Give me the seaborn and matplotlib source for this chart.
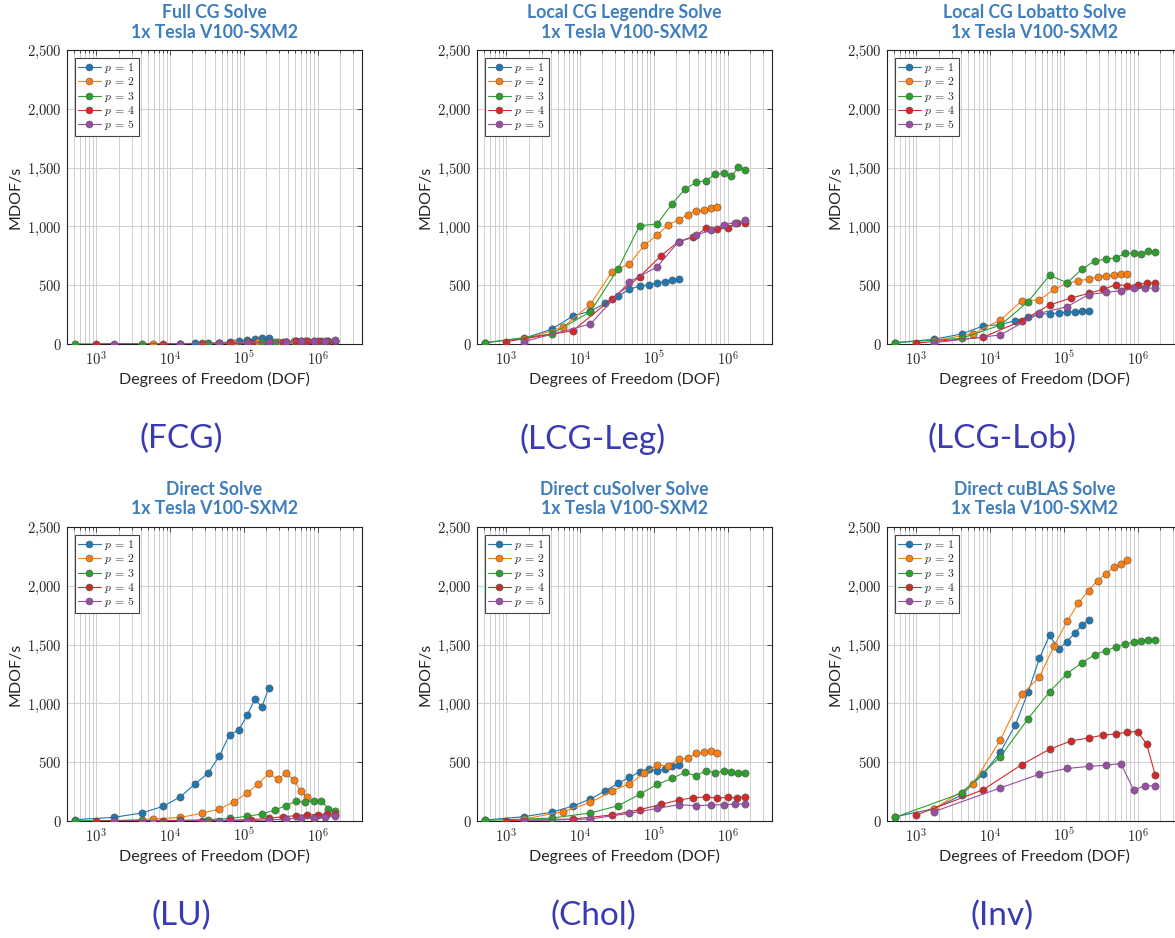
import numpy as np
import pandas as pd
import seaborn as sns
import matplotlib
matplotlib.use("Agg")
import matplotlib.pyplot as plt
from matplotlib.lines import Line2D
from matplotlib.ticker import FixedLocator, FuncFormatter, LogLocator, NullFormatter

nan = np.nan

# Degrees of freedom for each polynomial order (one entry per mesh size)
DOF_P1 = [512, 1728, 4096, 8000, 13824, 21952, 32768, 46656, 64000, 85184,
          110592, 140608, 175616, 216000]
DOF_P2 = [1728, 5832, 13824, 27000, 46656, 74088, 110592, 157464, 216000,
          287496, 373248, 474552, 592704, 729000]
DOF_P3 = [512, 4096, 13824, 32768, 64000, 110592, 175616, 262144, 373248,
          512000, 681472, 884736, 1124864, 1404928, 1728000]
DOF_P4 = [1000, 8000, 27000, 64000, 125000, 216000, 343000, 512000, 729000,
          1000000, 1331000, 1728000]
DOF_P5 = [1728, 13824, 46656, 110592, 216000, 373248, 592704, 884736,
          1259712, 1728000]

ORDERS = [1, 2, 3, 4, 5]
ORDER_LABELS = [r"$p\,=\,1$", r"$p\,=\,2$", r"$p\,=\,3$", r"$p\,=\,4$", r"$p\,=\,5$"]

# Throughput in MDOF/s per solver, one list per polynomial order
FCG_P1 = [nan, nan, nan, nan, nan, 5, 8, 11, 17, 28, 35, 42, 48, 50]
FCG_P2 = [nan, 2, 4, 6, 9, 12, 15, 17, 19, 20, 21, 22, 23, 24]
FCG_P3 = [1, 1, 2, 4, 8, 12, 16, 19, 21, 23, 24, 25, 26, 27, 28]
FCG_P4 = [1, 1, 2, 5, 10, 15, 19, 22, 24, 25, 26, 27]
FCG_P5 = [1, 2, 6, 12, 17, 21, 24, 27, 29, 33]

LEG_P1 = [11, 48, 125, 238, 280, 346, 408, 465, 493, 502, 521, 530, 544, 550]
LEG_P2 = [40, 142, 337, 615, 680, 840, 925, 1015, 1054, 1100, 1134, 1137, 1160, 1166]
LEG_P3 = [11, 85, 275, 640, 1006, 1020, 1190, 1315, 1375, 1389, 1445, 1451, 1428, 1502, 1480]
LEG_P4 = [20, 113, 385, 572, 751, 870, 907, 984, 975, 990, 1029, 1032]
LEG_P5 = [20, 170, 530, 655, 870, 924, 969, 1015, 1032, 1052]

LOB_P1 = [11, 40, 85, 153, 165, 198, 227, 255, 258, 263, 272, 275, 278, 280]
LOB_P2 = [28, 87, 204, 368, 374, 465, 516, 538, 552, 572, 581, 586, 598, 592]
LOB_P3 = [11, 48, 161, 360, 584, 521, 635, 708, 722, 734, 771, 771, 765, 788, 782]
LOB_P4 = [8, 57, 198, 331, 391, 430, 465, 505, 496, 505, 520, 516]
LOB_P5 = [11, 77, 261, 317, 420, 439, 453, 473, 479, 473]

LU_P1 = [11, 31, 68, 124, 206, 317, 407, 554, 735, 772, 899, 1035, 970, 1128]
LU_P2 = [3, 17, 31, 65, 102, 164, 238, 317, 404, 356, 404, 351, 252, 201]
LU_P3 = [2, 5, 6, 11, 22, 40, 59, 93, 130, 170, 158, 173, 173, 102, 88]
LU_P4 = [2, 3, 4, 6, 12, 22, 37, 45, 54, 55, 59, 60]
LU_P5 = [1, 1, 2, 3, 8, 17, 23, 28, 37, 45]

CHOL_P1 = [8, 37, 74, 127, 187, 257, 320, 370, 419, 441, 427, 441, 464, 478]
CHOL_P2 = [17, 79, 158, 254, 317, 404, 475, 469, 526, 532, 574, 583, 591, 580]
CHOL_P3 = [5, 25, 68, 130, 226, 311, 362, 413, 385, 427, 410, 427, 413, 410, 407]
CHOL_P4 = [3, 17, 51, 96, 141, 178, 198, 204, 195, 201, 198, 206]
CHOL_P5 = [3, 17, 65, 107, 139, 130, 136, 139, 144, 144]

INV_P1 = [35, 105, 220, 398, 587, 816, 1096, 1384, 1579, 1463, 1526, 1599, 1664, 1712]
INV_P2 = [102, 314, 689, 1076, 1226, 1492, 1698, 1853, 1960, 2045, 2102, 2158, 2186, 2220]
INV_P3 = [31, 237, 548, 870, 1099, 1254, 1345, 1415, 1449, 1480, 1506, 1520, 1531, 1538, 1538]
INV_P4 = [51, 265, 480, 610, 681, 706, 731, 740, 757, 760, 653, 393]
INV_P5 = [79, 282, 398, 447, 464, 475, 488, 265, 299, 299]

TITLES = ["Full CG Solve", "Local CG Legendre Solve", "Local CG Lobatto Solve",
          "Direct Solve", "Direct cuSolver Solve", "Direct cuBLAS Solve"]
SUBTITLE = "1x Tesla V100-SXM2"
TAGS = ["(FCG)", "(LCG-Leg)", "(LCG-Lob)", "(LU)", "(Chol)", "(Inv)"]

PANELS = [
    [FCG_P1, FCG_P2, FCG_P3, FCG_P4, FCG_P5],
    [LEG_P1, LEG_P2, LEG_P3, LEG_P4, LEG_P5],
    [LOB_P1, LOB_P2, LOB_P3, LOB_P4, LOB_P5],
    [LU_P1, LU_P2, LU_P3, LU_P4, LU_P5],
    [CHOL_P1, CHOL_P2, CHOL_P3, CHOL_P4, CHOL_P5],
    [INV_P1, INV_P2, INV_P3, INV_P4, INV_P5],
]
DOFS = [DOF_P1, DOF_P2, DOF_P3, DOF_P4, DOF_P5]

COLORS = ["#1f77b4", "#ff7f0e", "#2ca02c", "#d62728", "#984ea3"]
TITLE_COLOR = "#3f7dbb"
TAG_COLOR = "#3a3ab4"
SANS = ["Lato", "DejaVu Sans"]

sns.set_style("white")
plt.rcParams["font.family"] = SANS
plt.rcParams["mathtext.fontset"] = "cm"

W, H = 1175, 938
fig = plt.figure(figsize=(W / 100, H / 100), dpi=100)

col_left = [67, 477, 887]
row_top = [50, 527]
ax_w, ax_h = 295, 294
tag_x = [181, 593, 1002]
tag_y = [439, 916]


def y_fmt(v, _):
    return "$" + f"{int(round(v)):,}".replace(",", "{,}") + "$"


def x_fmt(v, _):
    return "$10^{%d}$" % int(round(np.log10(v)))


for i in range(6):
    r, c = divmod(i, 3)
    l, t = col_left[c], row_top[r]
    ax = fig.add_axes([l / W, 1 - (t + ax_h) / H, ax_w / W, ax_h / H])

    frames = []
    for p, dof, vals in zip(ORDERS, DOFS, PANELS[i]):
        frames.append(pd.DataFrame({"dof": dof, "mdof": vals, "p": p}))
    df = pd.concat(frames, ignore_index=True).dropna()

    sns.lineplot(data=df, x="dof", y="mdof", hue="p", palette=COLORS,
                 estimator=None, sort=False, marker="o", markersize=5.2,
                 markeredgecolor="#555555", markeredgewidth=0.4,
                 linewidth=0.8, legend=False, ax=ax, zorder=3)

    ax.set_xscale("log")
    ax.set_xlim(400, 4.0e6)
    ax.set_ylim(0, 2500)

    ax.xaxis.set_major_locator(FixedLocator([1e3, 1e4, 1e5, 1e6]))
    ax.xaxis.set_major_formatter(FuncFormatter(x_fmt))
    ax.xaxis.set_minor_locator(LogLocator(base=10, subs=np.arange(2, 10), numticks=20))
    ax.xaxis.set_minor_formatter(NullFormatter())
    ax.yaxis.set_major_locator(FixedLocator([0, 500, 1000, 1500, 2000, 2500]))
    ax.yaxis.set_major_formatter(FuncFormatter(y_fmt))

    ax.grid(True, which="major", axis="both", color="#cfcfcf", linewidth=0.7, zorder=0)
    ax.grid(True, which="minor", axis="x", color="#cfcfcf", linewidth=0.7, zorder=0)
    ax.set_axisbelow(True)

    ax.tick_params(which="both", direction="in", top=True, right=True,
                   labelsize=10.5, color="#333333", width=0.6)
    ax.tick_params(which="major", length=3.5, pad=4)
    ax.tick_params(which="minor", length=2)
    for s in ax.spines.values():
        s.set_color("#222222")
        s.set_linewidth(0.8)

    ax.set_xlabel("Degrees of Freedom (DOF)", fontsize=11.5, labelpad=3)
    ax.set_ylabel("MDOF/s", fontsize=11.5, labelpad=3)
    ax.set_title(TITLES[i] + "\n" + SUBTITLE, color=TITLE_COLOR, fontweight="bold",
                 fontsize=12.7, linespacing=1.2, pad=9)

    handles = [Line2D([], [], color=col, marker="o", markersize=5,
                      markeredgecolor="#555555", markeredgewidth=0.4, linewidth=0.8)
               for col in COLORS]
    leg = ax.legend(handles, ORDER_LABELS, loc="upper left", fontsize=8.5,
                    frameon=True, fancybox=False, framealpha=1,
                    edgecolor="#444444", handlelength=1.9, handletextpad=0.3,
                    labelspacing=0.02, borderpad=0.3, borderaxespad=0.65)
    leg.get_frame().set_linewidth(0.8)

    fig.text(tag_x[c] / W, 1 - tag_y[r] / H, TAGS[i], color=TAG_COLOR,
             fontsize=24, ha="center", va="center", family=SANS)

fig.savefig("out.png", dpi=100)
